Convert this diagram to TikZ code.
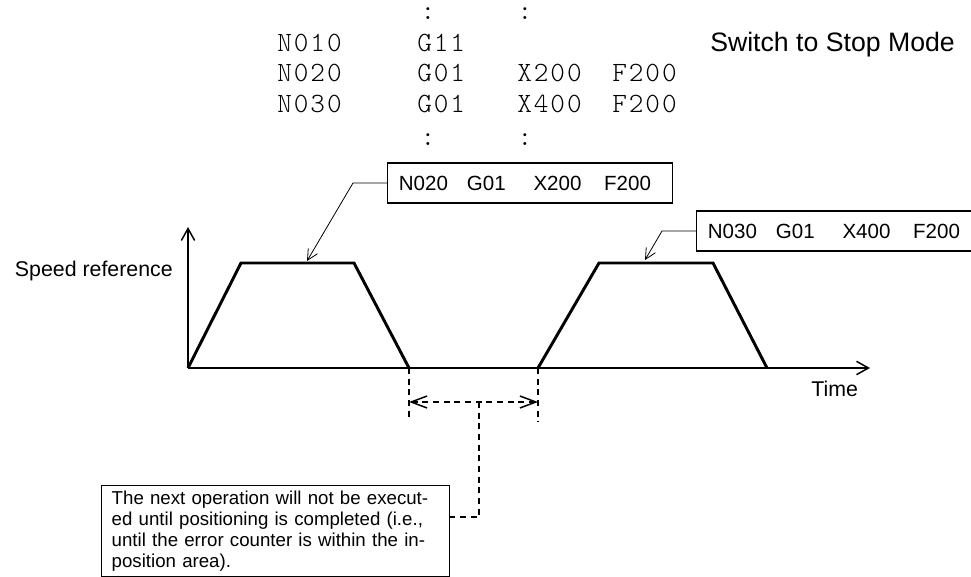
\documentclass[tikz,border=0pt]{standalone}
\usepackage{fontspec}
\newfontfamily\labelfont{Liberation Sans}
\newfontfamily\codefont{lmmonolt10-regular}[Extension=.otf,LetterSpace=7]
\usetikzlibrary{arrows.meta}

\newcommand{\cmdtokens}[4]{%
  \makebox[51pt][l]{#1}\makebox[50pt][l]{#2}\makebox[53pt][l]{#3}#4}

\tikzset{
    speed axis/.style={
      draw=black,
      line width=1.1pt,
      -{Straight Barb[length=9pt,width=10pt]}
    },
    speed profile/.style={
      draw=black,
      line width=2.2pt
    },
    cmd box/.style={
      draw=black,
      line width=1.1pt,
      font=\labelfont\fontsize{15.4}{18}\selectfont,
      minimum width=213.75pt,
      minimum height=30pt,
      text width=197pt,
      inner xsep=8.25pt,
      align=left,
      anchor=west
    },
    cmd leader/.style={
      draw=black,
      line width=0.6pt,
      -{Straight Barb[length=8pt,width=8pt]}
    },
    gap line/.style={
      draw=black,
      line width=1.1pt,
      dash pattern=on 4.5pt off 3.5pt
    },
    gap arrow/.style={
      gap line,
      {Straight Barb[length=12pt,width=9pt]}-{Straight Barb[length=12pt,width=9pt]}
    },
    note box/.style={
      draw=black,
      line width=1.1pt,
      font=\labelfont\fontsize{14}{15.75}\selectfont,
      text width=246pt,
      inner xsep=7.5pt,
      minimum height=68.25pt,
      align=left,
      anchor=north west
    },
    code text/.style={
      font=\codefont\fontsize{20.9}{24}\selectfont,
      inner sep=0pt
    },
    chart label/.style={
      font=\labelfont\fontsize{16}{19}\selectfont,
      inner sep=0pt
    }
  }

\begin{document}
\begin{tikzpicture}[x=0.75pt,y=-0.75pt]
      \useasboundingbox (0,0) rectangle (971,577);

      % プログラム
      \node[code text, anchor=base] (dotsa) at (428,20) {:};
      \node[code text, anchor=base] (dotsb) at (525,20) {:};
      \node[code text, anchor=base west] (n010) at (277,52) {N010};
      \node[code text, anchor=base west] (g11) at (417,52) {G11};
      \node[code text, anchor=base west] (n020) at (277,82) {N020};
      \node[code text, anchor=base west] (g01a) at (417,82) {G01};
      \node[code text, anchor=base west] (x200) at (517,82) {X200};
      \node[code text, anchor=base west] (f200a) at (612,82) {F200};
      \node[code text, anchor=base west] (n030) at (277,113) {N030};
      \node[code text, anchor=base west] (g01b) at (417,113) {G01};
      \node[code text, anchor=base west] (x400) at (517,113) {X400};
      \node[code text, anchor=base west] (f200b) at (612,113) {F200};
      \node[code text, anchor=base] (dotsc) at (428,146) {:};
      \node[code text, anchor=base] (dotsd) at (525,146) {:};
      \node[chart label, anchor=base west, font=\labelfont\fontsize{20}{24}\selectfont]
        (stopmode) at (710,52) {Switch to Stop Mode};

      % 座標
      \coordinate (origin) at (188,368);
      \coordinate (ytip) at (188,227);
      \coordinate (xtip) at (870,368);
      \coordinate (t1b) at (241,263);
      \coordinate (t1c) at (354,263);
      \coordinate (t1d) at (409,368);
      \coordinate (t2a) at (538,368);
      \coordinate (t2b) at (599,263);
      \coordinate (t2c) at (713,263);
      \coordinate (t2d) at (767,368);
      \coordinate (top1) at (307,261);
      \coordinate (top2) at (645,260);
      \coordinate (bend1) at (353,183);
      \coordinate (bend2) at (662,231);
      \coordinate (gapmid) at (479,402);
      \coordinate (gapcorner) at (479,517);
      \coordinate (gapendl) at (409,417);
      \coordinate (gapendr) at (538,422);

      % 軸と速度指令
      \draw[speed axis] (origin) -- (ytip);
      \draw[speed axis] (origin) -- (xtip);
      \draw[speed profile] (origin) -- (t1b) -- (t1c) -- (t1d);
      \draw[speed profile] (t2a) -- (t2b) -- (t2c) -- (t2d);
      \node[chart label, anchor=base east] (speedref) at (173,277) {Speed reference};
      \node[chart label, anchor=base west] (timelabel) at (811,396) {Time};

      % 指令ブロック
      \node[cmd box] (box020) at (387,183) {\cmdtokens{N020}{G01}{X200}{F200}};
      \node[cmd box] (box030) at (696,231) {\cmdtokens{N030}{G01}{X400}{F200}};
      \draw[cmd leader] (box020.west) -- (bend1) -- (top1);
      \draw[cmd leader] (box030.west) -- (bend2) -- (top2);

      % 位置決め待ち
      \draw[gap line] (t1d) -- (gapendl);
      \draw[gap line] (t2a) -- (gapendr);
      \draw[gap arrow] (t1d |- gapmid) -- (t2a |- gapmid);
      \node[note box] (notebox) at (101,485)
        {The next operation will not be execut-\\
         ed until positioning is completed (i.e.,\\
         until the error counter is within the in-\\
         position area).};
      \draw[gap line] (gapmid) -- (gapcorner) -- (notebox.east |- gapcorner);
    \end{tikzpicture}
\end{document}
